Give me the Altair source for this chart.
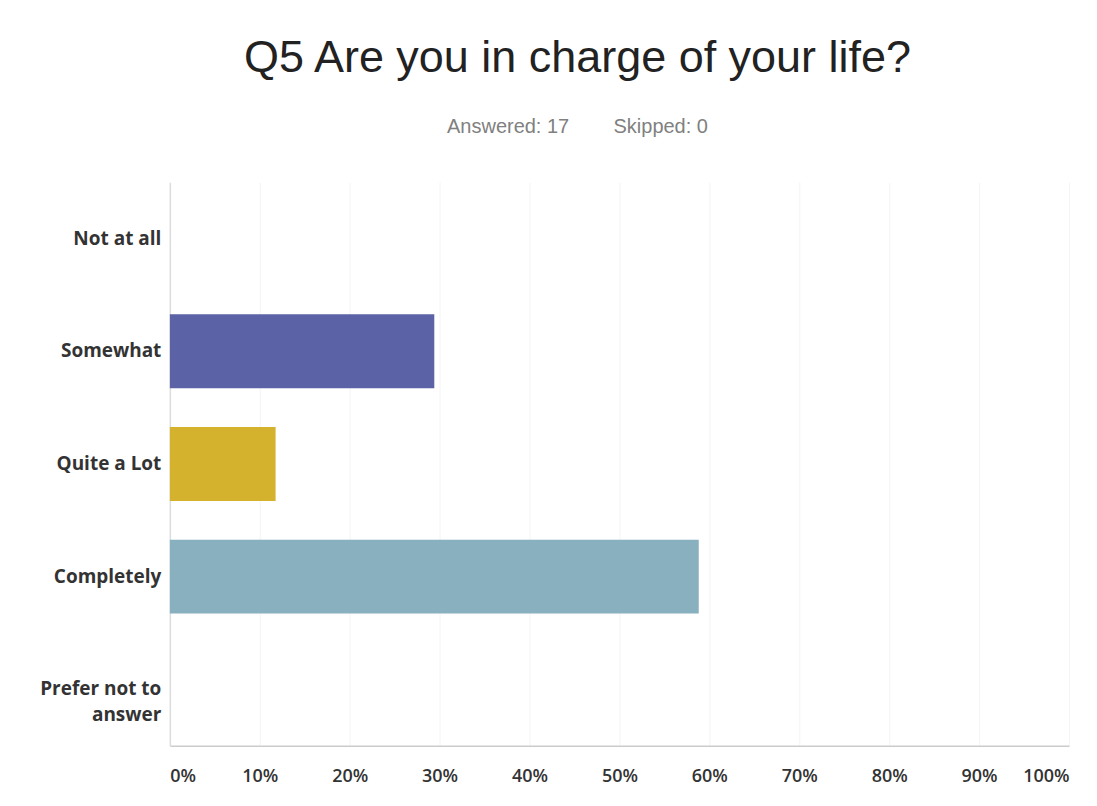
import altair as alt
import pandas as pd

categories = ["Not at all", "Somewhat", "Quite a Lot", "Completely", "Prefer not to answer"]
percents = [0.0, 29.41, 11.76, 58.82, 0.0]
colors = ["#5b62a6", "#5b62a6", "#d5b22d", "#89b0bf", "#89b0bf"]
x_ticks = [0, 10, 20, 30, 40, 50, 60, 70, 80, 90, 100]

df = pd.DataFrame({"answer": categories, "pct": percents, "color": colors})

bars = alt.Chart(df).mark_bar(size=74).encode(
    y=alt.Y("answer:N", sort=categories, title=None,
            scale=alt.Scale(paddingInner=0.34, paddingOuter=0.17),
            axis=alt.Axis(
                ticks=False, domainColor="#dddddd", domainWidth=1.5,
                labelFont="Open Sans", labelFontWeight="bold", labelFontSize=19,
                labelColor="#333333", labelPadding=9, labelLineHeight=26,
                minExtent=162, maxExtent=162, grid=False,
                labelExpr="datum.value == 'Prefer not to answer' ? ['Prefer not to', 'answer'] : datum.value",
            )),
    x=alt.X("pct:Q", title=None,
            scale=alt.Scale(domain=[0, 100], nice=False),
            axis=alt.Axis(
                values=x_ticks, ticks=False, domainColor="#cccccc", domainWidth=1.5,
                labelFont="Open Sans", labelFontWeight=600, labelFontSize=18,
                labelColor="#333333", labelPadding=22,
                labelExpr="datum.value + '%'",
                gridColor="#f4f4f4", gridWidth=1,
            )),
    color=alt.Color("color:N", scale=None, legend=None),
)

chart = bars.properties(
    width=900,
    height=564,
    padding={"left": 0, "top": 28, "right": 20, "bottom": 10},
    background="white",
    title=alt.TitleParams(
        text="Q5 Are you in charge of your life?",
        subtitle="Answered: 17\u00a0\u00a0\u00a0\u00a0\u00a0\u00a0\u00a0\u00a0Skipped: 0",
        anchor="middle",
        dx=-42,
        font="Liberation Sans",
        fontSize=45,
        fontWeight="normal",
        color="#222222",
        subtitleFont="Liberation Sans",
        subtitleFontSize=20,
        subtitleColor="#808080",
        subtitlePadding=36,
        offset=45,
    ),
).configure_view(stroke=None)

chart.save("out.html", embed_options={"renderer": "svg", "actions": False})
